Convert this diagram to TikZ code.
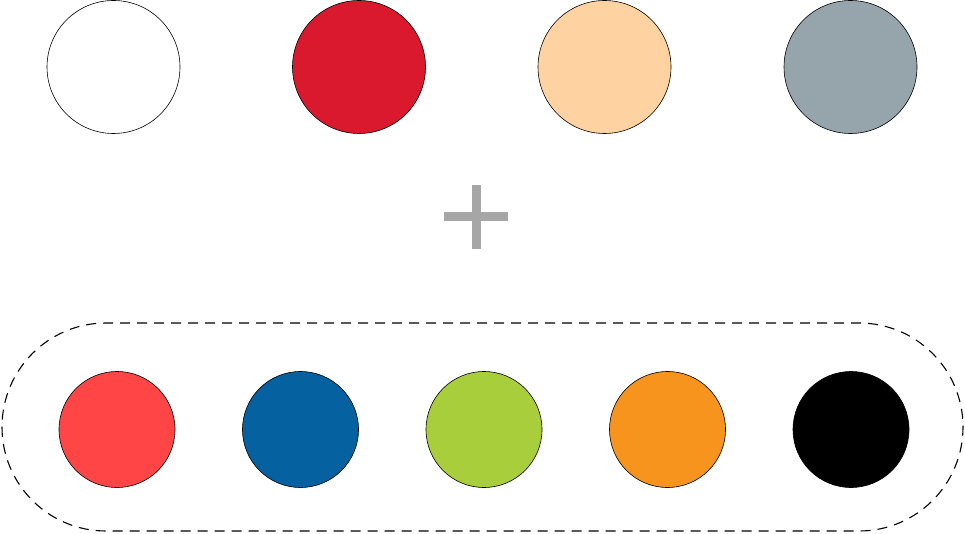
\documentclass[tikz,border=0pt]{standalone}
\begin{document}
\begin{tikzpicture}[x=1pt,y=-1pt,
  topdot/.style={circle,draw=black,line width=0.6pt,minimum size=133pt,inner sep=0pt},
  botdot/.style={circle,draw=black,line width=0.6pt,minimum size=116pt,inner sep=0pt},
  plusbar/.style={fill=plusgray,draw=none}]
\definecolor{cred}{HTML}{DA192E}
\definecolor{cpeach}{HTML}{FFD3A1}
\definecolor{cgrey}{HTML}{96A4AB}
\definecolor{bred}{HTML}{FF4545}
\definecolor{bblue}{HTML}{05619F}
\definecolor{bgreen}{HTML}{A8CE3B}
\definecolor{borange}{HTML}{F7941E}
\definecolor{plusgray}{HTML}{A6A6A6}
\useasboundingbox (0,0) rectangle (965,534);
% top row
\node[topdot,fill=white] (t1) at (113.5,67) {};
\node[topdot,fill=cred] (t2) at (359,67) {};
\node[topdot,fill=cpeach] (t3) at (604.5,67) {};
\node[topdot,fill=cgrey] (t4) at (850.5,67) {};
% plus
\fill[plusbar] (444,212.5) rectangle (508,221.5);
\fill[plusbar] (471.5,185.5) rectangle (480.5,249);
% dashed group
\draw[line width=1.1pt,dash pattern=on 10pt off 7pt,rounded corners=104pt]
  (2,323) rectangle (963,531);
% bottom row
\node[botdot,fill=bred] (b1) at (117,429.5) {};
\node[botdot,fill=bblue] (b2) at (300.5,429.5) {};
\node[botdot,fill=bgreen] (b3) at (484,429.5) {};
\node[botdot,fill=borange] (b4) at (667.5,429.5) {};
\node[botdot,fill=black] (b5) at (851,429.5) {};
\end{tikzpicture}
\end{document}
